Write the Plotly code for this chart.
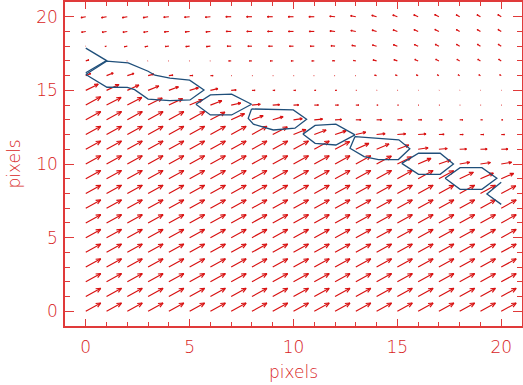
import math
import plotly.graph_objects as go

# ---------------- data ----------------
GRID_X = list(range(21))
GRID_Y = list(range(21))

FULL_U = [0.72] * 21
FULL_V = [0.56] * 21

# one row per y = 0..20, one value per x = 0..20 (data units)
U_ROWS = [
    FULL_U, FULL_U, FULL_U, FULL_U, FULL_U, FULL_U, FULL_U, FULL_U,
    [0.72] * 20 + [0.70],
    [0.72] * 17 + [0.71, 0.66, 0.62, 0.60],
    [0.72] * 14 + [0.71, 0.68, 0.62, 0.55, 0.48, 0.48, 0.50],
    [0.72] * 12 + [0.70, 0.63, 0.60, 0.55, 0.48, 0.40, 0.33, 0.32, 0.32],
    [0.72] * 9 + [0.70, 0.60, 0.57, 0.53, 0.48, 0.41, 0.40, 0.38, 0.25, 0.17, 0.16, 0.16],
    [0.72] * 6 + [0.70, 0.64, 0.54, 0.50, 0.42, 0.40, 0.32, 0.25, 0.24, 0.23, 0.17, 0.16, 0.15, 0.09, 0.08],
    [0.72, 0.70, 0.70, 0.68, 0.66, 0.62, 0.55, 0.46, 0.40, 0.33, 0.25, 0.20, 0.16, 0.14, 0.07, 0.05, 0.04, 0.04, 0.03, 0.03, 0.03],
    [0.60, 0.60, 0.56, 0.52, 0.46, 0.42, 0.36, 0.24, 0.15, 0.11, 0.10, 0.08, 0.07, 0.04, 0.03, 0.03, 0.02, 0.02, 0.02, 0.02, 0.02],
    [0.24, 0.32, 0.32, 0.28, 0.20, 0.16, 0.13, 0.03, 0.03, 0.03, 0.03, -0.03, -0.03, -0.03, -0.093, -0.088, -0.085, -0.082, -0.079, -0.077, -0.074],
    [0.15, 0.02, -0.029, -0.029, -0.03, -0.03, -0.03, -0.12, -0.12, -0.12, -0.12, -0.12, -0.119, -0.116, -0.176, -0.168, -0.161, -0.156, -0.134, -0.130, -0.126],
    [-0.019, -0.077, -0.145, -0.155, -0.178, -0.188, -0.198, -0.2, -0.2, -0.2, -0.2, -0.2, -0.198, -0.193, -0.204, -0.194, -0.187, -0.180, -0.158, -0.153, -0.149],
    [-0.203, -0.213, -0.213, -0.213, -0.218, -0.218, -0.218, -0.25, -0.25, -0.25, -0.25, -0.25, -0.248, -0.242, -0.222, -0.212, -0.204, -0.197, -0.165, -0.161, -0.156],
    [-0.232, -0.242, -0.242, -0.242, -0.248, -0.248, -0.248, -0.26, -0.26, -0.26, -0.26, -0.26, -0.257, -0.251, -0.232, -0.221, -0.212, -0.205, -0.173, -0.169, -0.163],
]
V_ROWS = [
    FULL_V, FULL_V, FULL_V, FULL_V, FULL_V, FULL_V, FULL_V, FULL_V,
    [0.56] * 20 + [0.52],
    [0.56] * 17 + [0.54, 0.44, 0.38, 0.36],
    [0.56] * 14 + [0.54, 0.48, 0.38, 0.27, 0.12, 0.10, 0.12],
    [0.56] * 12 + [0.52, 0.40, 0.36, 0.29, 0.10, 0.05, 0.02, 0.01, 0.01],
    [0.56] * 9 + [0.52, 0.34, 0.31, 0.25, 0.16, 0.06, 0.05, 0.04, 0.01, 0, 0, 0],
    [0.56] * 6 + [0.52, 0.42, 0.28, 0.22, 0.08, 0.05, 0.02, 0, 0, 0, 0, 0, 0, 0, 0],
    [0.56, 0.52, 0.52, 0.48, 0.44, 0.38, 0.30, 0.14, 0.06, 0.03, 0.01, 0, 0, 0, 0, 0, 0, 0, 0, 0, 0],
    [0.42, 0.40, 0.36, 0.30, 0.24, 0.18, 0.12, 0.03, 0, 0, 0, 0, 0, 0, 0.01, 0.01, 0.01, 0.01, 0.01, 0.01, 0.01],
    [0.15, 0.18, 0.15, 0.10, 0.03, 0.01, 0, 0, 0, 0, 0, 0, 0, 0, 0.038, 0.047, 0.053, 0.057, 0.062, 0.064, 0.067],
    [0.07, 0, -0.008, -0.008, -0.004, -0.004, -0.004, 0, 0, 0, 0, 0, 0.017, 0.031, 0.071, 0.089, 0.101, 0.109, 0.105, 0.109, 0.114],
    [-0.005, -0.021, -0.039, -0.041, -0.025, -0.026, -0.028, 0, 0, 0, 0, 0, 0.028, 0.052, 0.083, 0.103, 0.117, 0.126, 0.123, 0.129, 0.134],
    [-0.054, -0.057, -0.057, -0.057, -0.031, -0.031, -0.031, 0, 0, 0, 0, 0, 0.035, 0.065, 0.090, 0.113, 0.127, 0.138, 0.129, 0.135, 0.140],
    [-0.062, -0.065, -0.065, -0.065, -0.035, -0.035, -0.035, 0, 0, 0, 0, 0, 0.036, 0.067, 0.094, 0.117, 0.133, 0.144, 0.136, 0.141, 0.147],
]

# contour level lines (data coordinates)
CONTOUR_A_X = [0.0, 1.0, 0.0]
CONTOUR_A_Y = [17.87, 17.02, 16.2]
CONTOUR_B_X = [0.0, 1.0, 2.04, 3.0, 3.33, 4.05, 5.0, 5.69, 5.02, 4.05, 3.0, 2.35, 2.0, 1.02, 0.0]
CONTOUR_B_Y = [16.08, 16.98, 16.87, 16.3, 16.03, 15.83, 15.69, 15.03, 14.35, 14.3, 14.41, 15.05, 15.2, 15.21, 16.08]
CONTOUR_C_X = [5.3, 6.0, 7.02, 7.98, 7.02, 6.0, 5.3]
CONTOUR_C_Y = [14.06, 14.69, 14.74, 14.06, 13.33, 13.33, 14.06]
CONTOUR_D_X = [7.98, 9.99, 10.63, 10.07, 9.03, 8.07, 7.82, 7.98]
CONTOUR_D_Y = [13.74, 13.67, 13.04, 12.43, 12.31, 12.7, 13.1, 13.74]
CONTOUR_E_X = [10.45, 11.04, 12.04, 12.96, 12.04, 11.04, 10.45]
CONTOUR_E_Y = [12.03, 12.62, 12.71, 11.98, 11.29, 11.4, 12.03]
CONTOUR_F_X = [12.96, 15.07, 15.6, 15.05, 14.09, 13.4, 12.72, 12.96]
CONTOUR_F_Y = [11.86, 11.64, 11.04, 10.3, 10.3, 10.5, 11.07, 11.86]
CONTOUR_G_X = [15.21, 16.02, 17.06, 17.7, 17.06, 16.02, 15.21]
CONTOUR_G_Y = [10.04, 10.73, 10.73, 10.0, 9.3, 9.3, 10.04]
CONTOUR_H_X = [17.3, 18.02, 19.07, 19.79, 19.07, 18.02, 17.3]
CONTOUR_H_Y = [9.03, 9.75, 9.75, 9.03, 8.28, 8.28, 9.03]
CONTOUR_I_X = [20.0, 19.31, 20.0]
CONTOUR_I_Y = [8.76, 7.96, 7.26]

CONTOURS = [
    (CONTOUR_A_X, CONTOUR_A_Y), (CONTOUR_B_X, CONTOUR_B_Y), (CONTOUR_C_X, CONTOUR_C_Y),
    (CONTOUR_D_X, CONTOUR_D_Y), (CONTOUR_E_X, CONTOUR_E_Y), (CONTOUR_F_X, CONTOUR_F_Y),
    (CONTOUR_G_X, CONTOUR_G_Y), (CONTOUR_H_X, CONTOUR_H_Y), (CONTOUR_I_X, CONTOUR_I_Y),
]

MAJOR_STEP = 5
MINOR_STEP = 1
X_TITLE = "pixels"
Y_TITLE = "pixels"

# ---------------- style ----------------
W, H = 523, 385
ML, MR, MT, MB = 65, 1, 2, 59
XR = [-1, 21]
YR = [-1, 21]
AX = "#e03a3a"
TXT = "#d81c1c"
ARROW = "#d81010"
BLUE = "#1f4f7a"
FONT = "DejaVu Sans Light, DejaVu Sans ExtraLight, DejaVu Sans"

sx = (W - ML - MR) / (XR[1] - XR[0])  # px per x unit
sy = (H - MT - MB) / (YR[1] - YR[0])  # px per y unit
HEAD_FRAC = 0.3
HEAD_ANG = math.radians(24)

ax_x, ax_y = [], []
for j, yv in enumerate(GRID_Y):
    for i, xv in enumerate(GRID_X):
        u = U_ROWS[j][i]
        v = V_ROWS[j][i]
        x1 = xv + u
        y1 = yv + v
        ax_x += [xv, x1, None]
        ax_y += [yv, y1, None]
        dxp, dyp = u * sx, v * sy
        L = math.hypot(dxp, dyp)
        if L < 1.0:
            continue
        ang = math.atan2(dyp, dxp)
        hl = HEAD_FRAC * L
        for s in (1, -1):
            a = ang + s * HEAD_ANG
            ax_x += [x1, x1 - hl * math.cos(a) / sx, None]
            ax_y += [y1, y1 - hl * math.sin(a) / sy, None]

fig = go.Figure()
fig.add_trace(go.Scatter(x=ax_x, y=ax_y, mode="lines",
                         line=dict(color=ARROW, width=1.15),
                         hoverinfo="skip", showlegend=False))
for cx, cy in CONTOURS:
    fig.add_trace(go.Scatter(x=cx, y=cy, mode="lines",
                             line=dict(color=BLUE, width=1.3),
                             hoverinfo="skip", showlegend=False))

tfont = dict(family=FONT, size=17, color=TXT, weight=200)
axis_common = dict(
    showgrid=False, zeroline=False, showline=True, linecolor=AX, linewidth=1.5,
    mirror="ticks", ticks="inside", tickcolor=AX, tickwidth=1.4,
    tickmode="linear", tick0=0, dtick=MAJOR_STEP,
    tickfont=tfont,
)
fig.update_xaxes(range=XR, ticklen=7, ticklabelstandoff=5,
                 minor=dict(dtick=MINOR_STEP, tick0=0, ticks="inside", ticklen=4, tickcolor=AX, tickwidth=1.3, showgrid=False),
                 title=dict(text=X_TITLE, font=tfont, standoff=10),
                 **axis_common)
fig.update_yaxes(range=YR, ticklen=9, ticklabelstandoff=2,
                 minor=dict(dtick=MINOR_STEP, tick0=0, ticks="inside", ticklen=5, tickcolor=AX, tickwidth=1.3, showgrid=False),
                 title=dict(text=Y_TITLE, font=tfont, standoff=11),
                 **axis_common)
fig.update_layout(width=W, height=H, margin=dict(l=ML, r=MR, t=MT, b=MB, autoexpand=False),
                  plot_bgcolor="white", paper_bgcolor="white", showlegend=False)
fig.write_html("out.html")
